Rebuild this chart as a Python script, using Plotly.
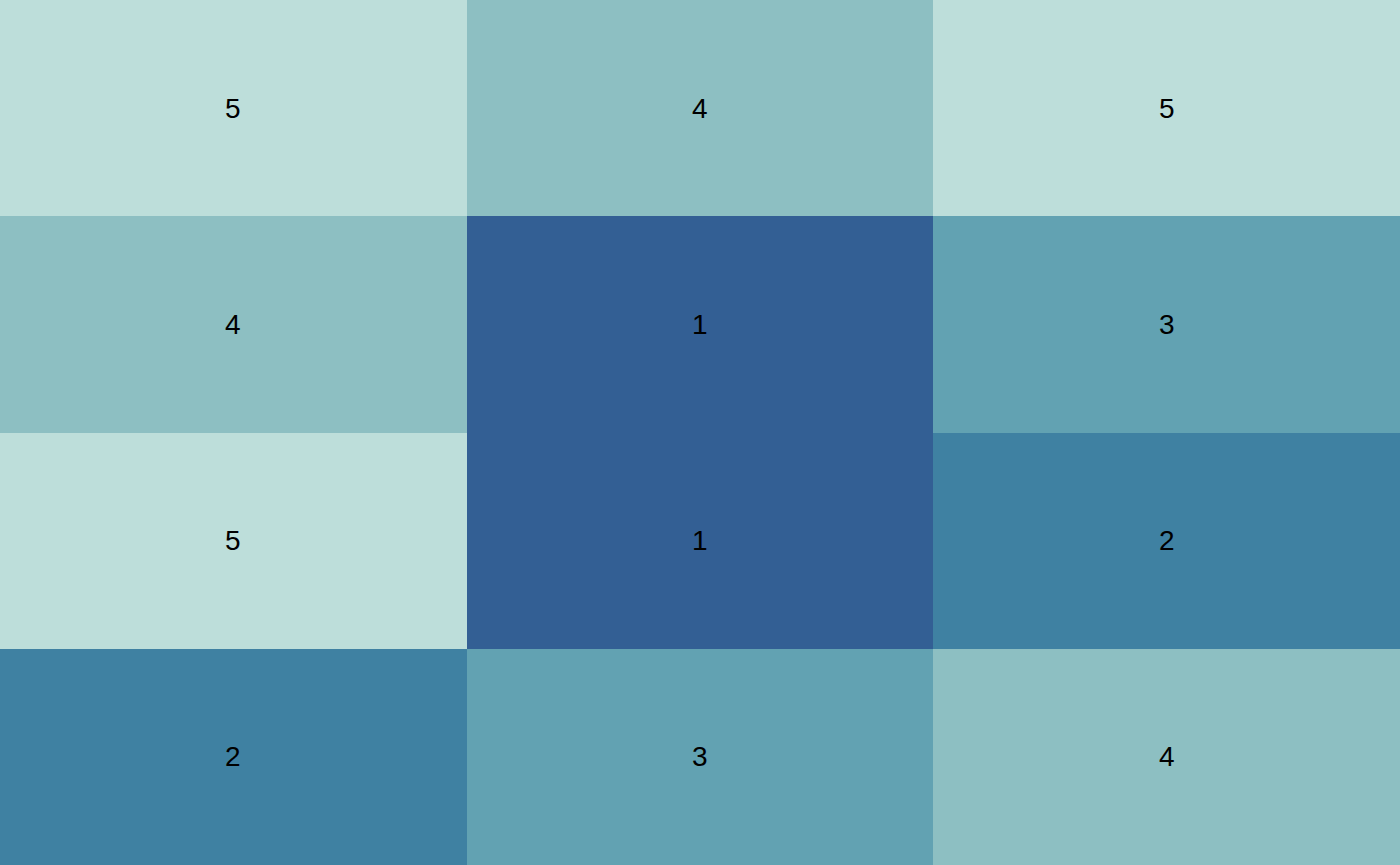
import plotly.graph_objects as go

columns = ["A", "B", "C"]
rows = ["r1", "r2", "r3", "r4"]  # top to bottom
values = [
    [5, 4, 5],
    [4, 1, 3],
    [5, 1, 2],
    [2, 3, 4],
]
level_colors = {1: "#335F94", 2: "#3F81A2", 3: "#62A2B2", 4: "#8DBFC2", 5: "#BDDEDA"}

cs = []
for i, lv in enumerate(range(1, 6)):
    cs.append([i / 5, level_colors[lv]])
    cs.append([(i + 1) / 5, level_colors[lv]])

fig = go.Figure(go.Heatmap(
    z=values,
    x=columns,
    y=rows,
    zmin=0.5,
    zmax=5.5,
    colorscale=cs,
    showscale=False,
    hoverinfo="skip",
    xgap=0, ygap=0,
))
for ri, r in enumerate(rows):
    for ci, c in enumerate(columns):
        fig.add_annotation(
            x=c, y=r, text=str(values[ri][ci]), showarrow=False,
            font=dict(family="Liberation Sans, Arial, sans-serif", size=28, color="black"),
        )
fig.update_layout(
    width=1400, height=865,
    margin=dict(l=0, r=0, t=0, b=0),
    paper_bgcolor="white", plot_bgcolor="white",
    xaxis=dict(visible=False),
    yaxis=dict(visible=False, autorange="reversed"),
)
fig.write_html("out.html", config={"displayModeBar": False},
               post_script="document.body.style.margin='0';document.body.style.overflow='hidden';")
